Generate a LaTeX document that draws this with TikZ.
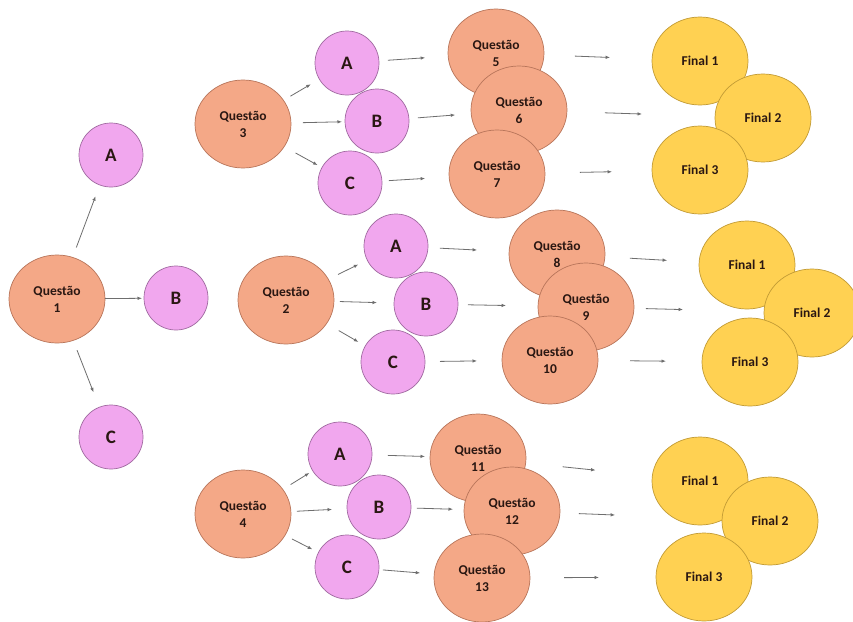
\documentclass[tikz,border=0pt]{standalone}
\usepackage{fontspec}
\setmainfont{Carlito}
\usepackage{xcolor}
\usetikzlibrary{positioning,arrows.meta,shapes.geometric}
\definecolor{ink}{HTML}{2A1712}
\definecolor{salmon}{HTML}{F4A887}
\definecolor{salmonline}{HTML}{B8755A}
\definecolor{orchid}{HTML}{F1A7EE}
\definecolor{orchidline}{HTML}{A06AA0}
\definecolor{gold}{HTML}{FFD152}
\definecolor{goldline}{HTML}{C29B35}
\definecolor{wire}{HTML}{6E6E6E}

\begin{document}
\begin{tikzpicture}[x=1pt,y=-1pt,font=\bfseries\fontsize{13.5}{17}\selectfont,text=ink,
  q/.style={ellipse,draw=salmonline,line width=0.7pt,fill=salmon,
            minimum width=96pt,minimum height=88pt,inner sep=0pt,align=center},
  opt/.style={circle,draw=orchidline,line width=0.7pt,fill=orchid,
            minimum size=64pt,inner sep=0pt,font=\bfseries\fontsize{19}{22}\selectfont},
  fin/.style={ellipse,draw=goldline,line width=0.7pt,fill=gold,
            minimum width=96pt,minimum height=88pt,inner sep=0pt},
  a/.style={-{Latex[length=4.5pt,width=3.5pt]},wire,line width=0.8pt},
  gap/.style 2 args={shorten <=#1pt,shorten >=#2pt}]
\useasboundingbox[fill=white] (0,0) rectangle (853,621);
% first question and its options
\node[q](q1) at (57,299){Questão\\1};
\node[opt](a1) at (111,155){A};
\node[opt](b1) at (176,298){B};
\node[opt](c1) at (111,437){C};
\draw[a,gap={55}{44}](q1.center)--(a1.center);
\draw[a,gap={48}{34}](q1.center)--(b1.center);
\draw[a,gap={55}{48}](q1.center)--(c1.center);
% top branch
\node[q](q3) at (243,124){Questão\\3};
\node[opt](a3) at (347,63){A};
\node[opt](b3) at (377,121){B};
\node[opt](c3) at (350,183){C};
\node[q](q5) at (496,53){Questão\\5};
\node[q](q6) at (519,110){Questão\\6};
\node[q](q7) at (497,174){Questão\\7};
\node[fin](f1) at (700,61){Final 1};
\node[fin](f2) at (763,118){Final 2};
\node[fin](f3) at (700,170){Final 3};
\draw[a,gap={55}{42}](q3.center)--(a3.center);
\draw[a,gap={60}{35}](q3.center)--(b3.center);
\draw[a,gap={60}{37}](q3.center)--(c3.center);
\draw[a,gap={41}{71}](a3.center)--(q5.center);
\draw[a,gap={41}{64}](b3.center)--(q6.center);
\draw[a,gap={39}{72}](c3.center)--(q7.center);
\draw[a,gap={79}{90}](q5.center)--(f1.center);
\draw[a,gap={86}{121}](q6.center)--(f2.center);
\draw[a,gap={83}{88}](q7.center)--(f3.center);
% middle branch
\node[q](q2) at (286,300){Questão\\2};
\node[opt](a2) at (396,246){A};
\node[opt](b2) at (426,304){B};
\node[opt](c2) at (393,362){C};
\node[q](q8) at (557,254){Questão\\8};
\node[q](q9) at (586,307){Questão\\9};
\node[q](q10) at (550,360){Questão\\10};
\node[fin](g1) at (747,265){Final 1};
\node[fin](g2) at (812,313){Final 2};
\node[fin](g3) at (750,362){Final 3};
\draw[a,gap={58}{42}](q2.center)--(a2.center);
\draw[a,gap={54}{49}](q2.center)--(b2.center);
\draw[a,gap={61}{40}](q2.center)--(c2.center);
\draw[a,gap={44}{80}](a2.center)--(q8.center);
\draw[a,gap={42}{80}](b2.center)--(q9.center);
\draw[a,gap={47}{73}](c2.center)--(q10.center);
\draw[a,gap={73}{80}](q8.center)--(g1.center);
\draw[a,gap={60}{129}](q9.center)--(g2.center);
\draw[a,gap={80}{84}](q10.center)--(g3.center);
% bottom branch
\node[q](q4) at (243,514){Questão\\4};
\node[opt](a4) at (340,454){A};
\node[opt](b4) at (379,507){B};
\node[opt](c4) at (347,567){C};
\node[q](q11) at (478,458){Questão\\11};
\node[q](q12) at (512,511){Questão\\12};
\node[q](q13) at (482,578){Questão\\13};
\node[fin](h1) at (700,481){Final 1};
\node[fin](h2) at (770,521){Final 2};
\node[fin](h3) at (704,577){Final 3};
\draw[a,gap={56}{36}](q4.center)--(a4.center);
\draw[a,gap={54}{47}](q4.center)--(b4.center);
\draw[a,gap={55}{39}](q4.center)--(c4.center);
\draw[a,gap={48}{53}](a4.center)--(q11.center);
\draw[a,gap={38}{59}](b4.center)--(q12.center);
\draw[a,gap={36}{62}](c4.center)--(q13.center);
\draw[a,gap={85}{105}](q11.center)--(h1.center);
\draw[a,gap={67}{155}](q12.center)--(h2.center);
\draw[a,gap={82}{105}](q13.center)--(h3.center);
\end{tikzpicture}
\end{document}
